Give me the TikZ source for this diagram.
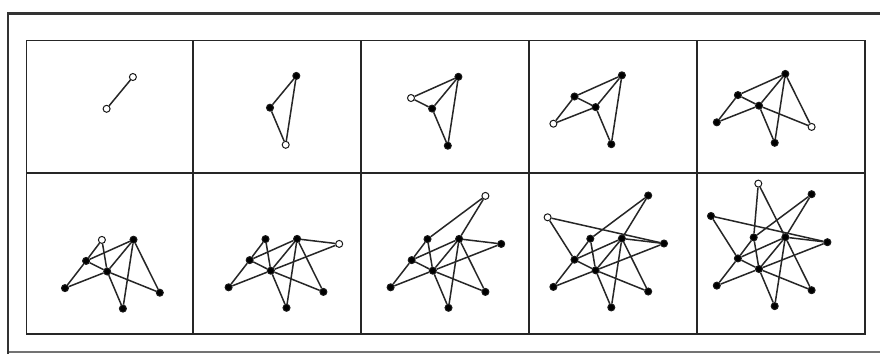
\documentclass[tikz,border=0pt]{standalone}
\usetikzlibrary{calc}
\tikzset{
  vtx/.style={circle, draw=black!90, line width=1pt, inner sep=0pt, minimum size=7pt, fill=#1},
  edge/.style={draw=black!85, line width=1.5pt},
  gridline/.style={draw=black!85, line width=1.9pt},
  frameline/.style={draw=black!80, line width=2.2pt},
}
\newcommand\addv[4]{\ifnum#1<#2 \else\ifnum#1=#2 \def\fc{white}\else\def\fc{black}\fi\node[vtx=\fc] (#3) at #4 {};\fi}
\newcommand\adde[4]{\ifnum#1<#2 \else\draw[edge] (#3) -- (#4);\fi}
\newcommand\lamancell[3]{%
\begin{scope}[shift={(#1,#2)}, name prefix=c#3-]
  \addv{#3}{1}{M}{(0,0)}
  \addv{#3}{1}{T}{(26.3,-31.8)}
  \addv{#3}{2}{B}{(15.7,37.1)}
  \addv{#3}{3}{A}{(-21.1,-10.6)}
  \addv{#3}{4}{L}{(-42.2,16.6)}
  \addv{#3}{5}{R}{(52.6,21.2)}
  \addv{#3}{6}{P}{(-5.3,-31.6)}
  \addv{#3}{7}{Q}{(68.4,-26.8)}
  \addv{#3}{8}{S}{(52.6,-74.8)}
  \addv{#3}{9}{U}{(-48,-53)}
  \addv{#3}{10}{V}{(-0.7,-85.4)}
  \adde{#3}{1}{T}{M}
  \adde{#3}{2}{T}{B}
  \adde{#3}{2}{M}{B}
  \adde{#3}{3}{A}{T}
  \adde{#3}{3}{A}{M}
  \adde{#3}{4}{L}{A}
  \adde{#3}{4}{L}{M}
  \adde{#3}{5}{R}{T}
  \adde{#3}{5}{R}{M}
  \adde{#3}{6}{P}{A}
  \adde{#3}{6}{P}{M}
  \adde{#3}{7}{Q}{T}
  \adde{#3}{7}{Q}{M}
  \adde{#3}{8}{S}{P}
  \adde{#3}{8}{S}{T}
  \adde{#3}{9}{U}{Q}
  \adde{#3}{9}{U}{A}
  \adde{#3}{10}{V}{P}
  \adde{#3}{10}{V}{T}
\end{scope}}
\begin{document}
\begin{tikzpicture}[x=1pt,y=-1pt]
  \useasboundingbox (0,0) rectangle (880,354);
  \fill[white] (0,0) rectangle (880,354);
  % outer frame
  \draw[frameline] (7,13.5) -- (880,13.5);
  \draw[frameline] (8,12.4) -- (8,354);
  \draw[draw=black!55, line width=1.6pt] (9,352) -- (880,352);
  % grid
  \draw[gridline] (26.5,40.5) rectangle (865,334);
  \draw[gridline] (26.5,173) -- (865,173);
  \foreach \gx in {193,361,529,697} \draw[gridline] (\gx,40.5) -- (\gx,334);
  % graphs
  \lamancell{106.6}{108.8}{1}
  \lamancell{270}{107.7}{2}
  \lamancell{432.1}{108.6}{3}
  \lamancell{595.6}{107.1}{4}
  \lamancell{759}{105.7}{5}
  \lamancell{107.2}{271.5}{6}
  \lamancell{270.8}{270.7}{7}
  \lamancell{432.8}{270.7}{8}
  \lamancell{595.6}{270.3}{9}
  \lamancell{759}{269}{10}
\end{tikzpicture}
\end{document}
